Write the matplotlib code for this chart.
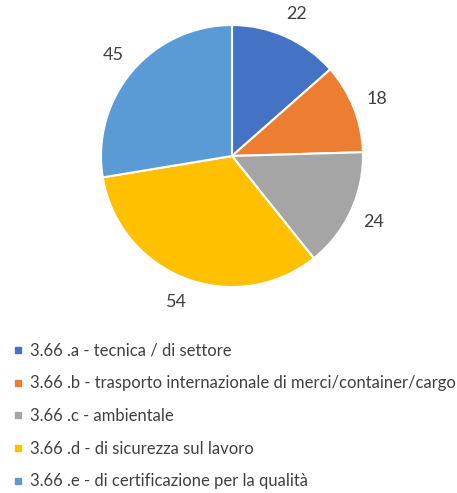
import matplotlib
matplotlib.use("Agg")
import matplotlib.pyplot as plt
from matplotlib.lines import Line2D

categories = [
    "3.66 .a - tecnica / di settore",
    "3.66 .b - trasporto internazionale di merci/container/cargo",
    "3.66 .c - ambientale",
    "3.66 .d - di sicurezza sul lavoro",
    "3.66 .e - di certificazione per la qualità",
]
values = [22, 18, 24, 54, 45]
colors = ["#4472C4", "#ED7D31", "#A5A5A5", "#FFC000", "#5B9BD5"]

plt.rcParams['font.family'] = ['Lato', 'DejaVu Sans']

W, H = 457, 493
fig = plt.figure(figsize=(W / 100, H / 100), dpi=100)
cx, cy, r = 232, 156, 131
ax = fig.add_axes([(cx - r) / W, (H - cy - r) / H, 2 * r / W, 2 * r / H])
wedges, texts = ax.pie(values, colors=colors, startangle=90, counterclock=False,
                       labels=[str(v) for v in values], labeldistance=1.19,
                       wedgeprops=dict(edgecolor="white", linewidth=1.5),
                       textprops=dict(fontsize=13, color="#404040"))
for t in texts:
    t.set_horizontalalignment("center")
    t.set_verticalalignment("center")
ax.set_xlim(-1, 1)
ax.set_ylim(-1, 1)
ax.set_aspect("equal")
ax.axis("off")

handles = [Line2D([], [], marker="s", linestyle="none", markersize=5,
                  markerfacecolor=c, markeredgecolor=c) for c in colors]
fig.legend(handles, categories, loc="upper left",
           bbox_to_anchor=(7 / W, 1 - 336 / H), frameon=False,
           fontsize=12, labelcolor="#404040", handlelength=0.5,
           handletextpad=0.45, labelspacing=1.0, borderaxespad=0)

fig.savefig("out.png", dpi=100, facecolor="white")
